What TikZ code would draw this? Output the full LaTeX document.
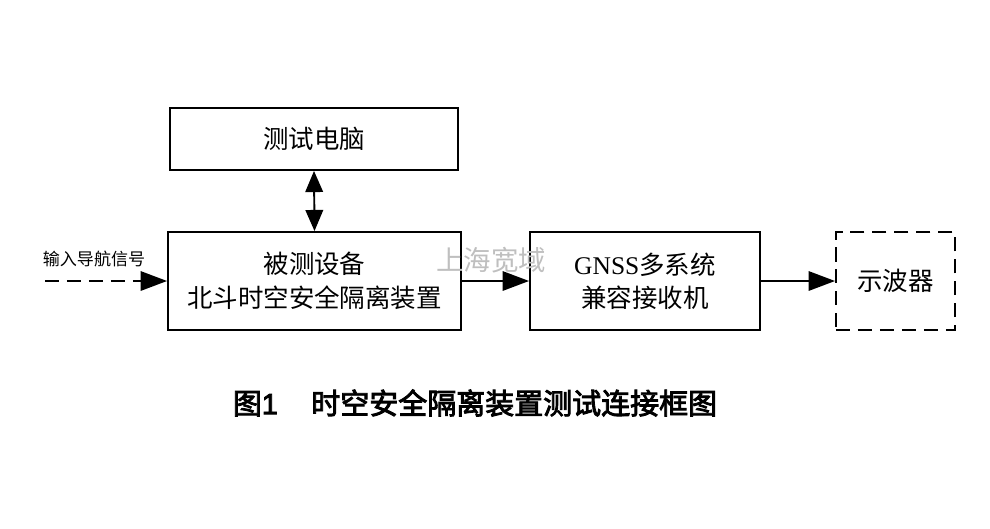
\documentclass[tikz,border=0pt]{standalone}
\usepackage{fontspec}
\setmainfont{Liberation Serif}
\newfontfamily\cjk{Noto Sans CJK SC}
\newfontfamily\cjkhei{Noto Sans CJK SC}[FakeBold=3]
\newfontfamily\capnum{Liberation Sans}[FakeBold=3]
\usetikzlibrary{arrows.meta}

\tikzset{
  blk/.style={draw, line width=1.1pt, align=center, minimum height=1.96cm,
    inner sep=0pt, font=\fontsize{14.5pt}{19pt}\selectfont\cjk},
  sig/.style={line width=1.1pt, -{Triangle[length=15pt,width=11pt]}},
  dash8/.style={dash pattern=on 8pt off 4.5pt},
}

\begin{document}
\begin{tikzpicture}[x=0.02cm,y=-0.02cm]
          \useasboundingbox (0,0) rectangle (990,528);

          \node[blk, minimum width=5.76cm, minimum height=1.24cm] (pc) at (314,139) {测试电脑};
          \node[blk, minimum width=5.86cm] (dut) at (314.5,281) {被测设备\\北斗时空安全隔离装置};
          \node[blk, minimum width=4.6cm] (rx) at (645,281) {{\rmfamily GNSS}多系统\\兼容接收机};
          \node[blk, dash8, minimum width=2.38cm] (osc) at (895.5,281) {示波器};

          % input signal
          \coordinate (in) at (45,281);
          \node[font=\fontsize{9.7pt}{12pt}\selectfont\cjk] (inlbl) at (94,259) {输入导航信号};
          \draw[sig, dash8] (in) -- (dut.west);

          \draw[line width=1.1pt, {Triangle[length=12pt,width=10pt]}-{Triangle[length=12pt,width=10pt]}] (pc.south) -- (dut.north);
          \draw[sig] (dut.east) -- (rx.west);
          \draw[sig] (rx.east) -- (osc.west);

          \node[text=gray!50, font=\fontsize{15.6pt}{18pt}\selectfont\cjk] (wm) at (491,260) {上海宽域};

          \node[font=\fontsize{16.5pt}{20pt}\selectfont\cjkhei] (cap) at (475,403) {图{\capnum 1}\hspace{1.15em}时空安全隔离装置测试连接框图};
        \end{tikzpicture}
\end{document}
